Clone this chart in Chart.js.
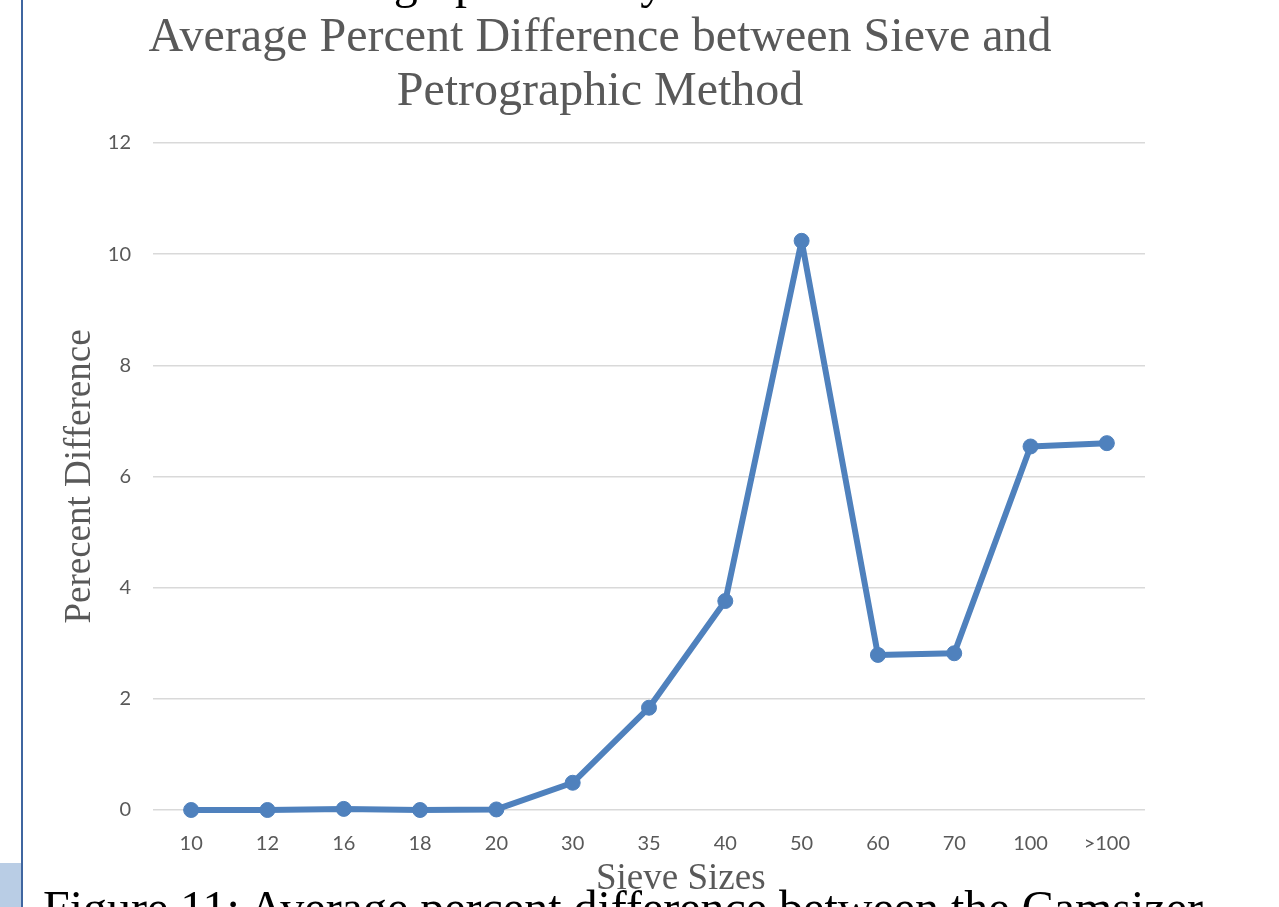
<!DOCTYPE html>
<html>
<head>
<meta charset="utf-8">
<script src="https://cdn.jsdelivr.net/npm/chart.js@4"></script>
<style>
    html, body { margin: 0; padding: 0; background: #fff; }
    body { width: 1279px; height: 907px; position: relative; overflow: hidden; }
    #wrap { position: absolute; left: 0; top: 0; width: 1279px; height: 907px; }
    .serif { position: absolute; font-family: "Liberation Serif", "Times New Roman", serif; white-space: nowrap; color: #000; font-size: 48px; line-height: 48px; }
    #topText { left: 107px; top: -42px; }
    #caption { left: 43px; top: 884px; }
    #xTitle { left: 596px; top: 858px; font-size: 37px; line-height: 37px; color: #595959; }
    #sideBox { position: absolute; left: 0; top: 863px; width: 21px; height: 44px; background: #b9cde5; }
    #sideLine { position: absolute; left: 21px; top: 0; width: 2px; height: 907px; background: #3f66a0; }
</style>
</head>
<body>
<div id="wrap"><canvas id="myChart" width="1279" height="907"></canvas></div>
<div class="serif" id="topText">Sieve vs. Petrographic Analyses</div>
<div class="serif" id="xTitle">Sieve Sizes</div>
<div class="serif" id="caption">Figure 11: Average percent difference between the Camsizer</div>
<div id="sideBox"></div>
<div id="sideLine"></div>
<script>
// data
const sieveSizes = ['10', '12', '16', '18', '20', '30', '35', '40', '50', '60', '70', '100', '>100'];
const percentDiff = [0, 0, 0.02, 0, 0.01, 0.49, 1.84, 3.76, 10.24, 2.79, 2.82, 6.54, 6.60];
const yTicks = [0, 2, 4, 6, 8, 10, 12];

const lineBlue = '#4f81bd';
const textGray = '#595959';

const ctx = document.getElementById('myChart').getContext('2d');
const myChart = new Chart(ctx, {
    type: 'line',
    data: {
        labels: sieveSizes,
        datasets: [
            {label: 'Percent Difference', data: percentDiff, borderColor: lineBlue, backgroundColor: lineBlue,
             borderWidth: 6, borderJoinStyle: 'round', borderCapStyle: 'round',
             pointRadius: 7.5, pointHoverRadius: 7.5, pointBorderWidth: 1,
             fill: false, tension: 0, clip: false}
        ]
    },
    options: {
        responsive: false,
        animation: false,
        layout: {padding: {top: 7, right: 79, left: 0, bottom: 0}},
        plugins: {
            legend: {display: false},
            tooltip: {enabled: false},
            title: {
                display: true,
                text: ['Average Percent Difference between Sieve and', 'Petrographic Method'],
                color: textGray,
                font: {family: 'Liberation Serif', size: 48, weight: 'normal', lineHeight: 1.125},
                padding: {top: 4, bottom: 24}
            }
        },
        scales: {
            x: {
                offset: true,
                grid: {display: false, drawTicks: false},
                border: {display: false},
                ticks: {color: textGray, font: {family: 'Lato', size: 20}, padding: 22, maxRotation: 0},
                afterFit: (scale) => { scale.height = 97; }
            },
            y: {
                min: 0,
                max: 12,
                afterBuildTicks: (scale) => { scale.ticks = yTicks.map(v => ({value: v})); },
                grid: {color: '#d9d9d9', lineWidth: 1.5, drawTicks: false},
                border: {display: false},
                ticks: {color: textGray, font: {family: 'Lato', size: 20}, padding: 22},
                title: {display: true, text: 'Perecent Difference', color: textGray,
                        font: {family: 'Liberation Serif', size: 37, lineHeight: 1}, padding: {top: 62, bottom: 0}},
                afterFit: (scale) => { scale.width = 153; }
            },
            // skala kosong di kanan supaya judul tetap di tengah
            yRight: {
                position: 'right',
                min: 0,
                max: 1,
                grid: {display: false, drawTicks: false},
                border: {display: false},
                ticks: {display: false},
                afterFit: (scale) => { scale.width = 55; }
            }
        }
    }
});
</script>
</body>
</html>
